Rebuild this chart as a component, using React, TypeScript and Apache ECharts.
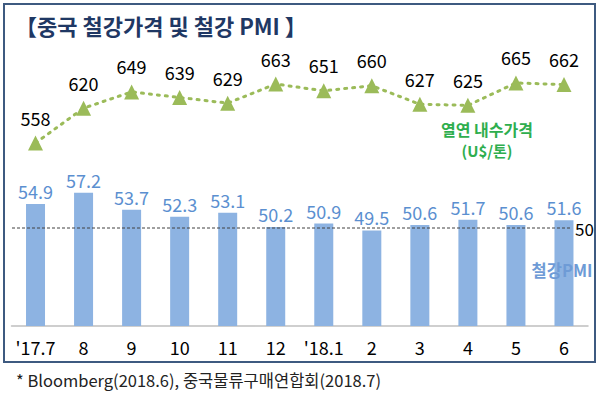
import React, { useEffect, useRef } from "react";
import * as echarts from "echarts";

const categories = ["'17.7", "8", "9", "10", "11", "12", "'18.1", "2", "3", "4", "5", "6"];
const pmiValues = [54.9, 57.2, 53.7, 52.3, 53.1, 50.2, 50.9, 49.5, 50.6, 51.7, 50.6, 51.6];
const priceValues = [558, 620, 649, 639, 629, 663, 651, 660, 627, 625, 665, 662];
const refLineValue = 50;

const FONT = "'Noto Sans CJK KR', 'Noto Sans', sans-serif";

export default function App() {
  const ref = useRef<HTMLDivElement>(null);
  useEffect(() => {
    if (!ref.current) return;
    const chart = echarts.init(ref.current, null, { renderer: "svg" });
    chart.setOption({
      animation: false,
      backgroundColor: "#ffffff",
      textStyle: { fontFamily: FONT },
      title: {
        text: "【중국 철강가격 및 철강 PMI 】",
        left: 10,
        top: 9,
        textStyle: { fontSize: 22, fontWeight: "bold", color: "#1F3864", fontFamily: FONT },
      },
      grid: [
        { left: 11.5, right: 12, top: 32, bottom: 68 },
        { left: 12, right: 28, top: 32, bottom: 68 },
      ],
      xAxis: [
        {
          type: "category",
          data: categories,
          gridIndex: 0,
          axisLine: { lineStyle: { color: "#BFBFBF", width: 1.5 } },
          axisTick: { show: false },
          axisLabel: { interval: 0, color: "#000", fontSize: 18, margin: 12, fontFamily: FONT },
        },
        { type: "value", gridIndex: 1, min: 0, max: 1, show: false },
      ],
      yAxis: [
        { type: "value", gridIndex: 0, min: 30, max: 90, show: false, splitLine: { show: false } },
        { type: "value", gridIndex: 0, min: 232, max: 755.7, show: false, splitLine: { show: false } },
        { type: "value", gridIndex: 1, min: 30, max: 90, show: false, splitLine: { show: false } },
      ],
      series: [
        {
          type: "bar",
          xAxisIndex: 0,
          yAxisIndex: 0,
          data: pmiValues,
          barWidth: 19,
          itemStyle: { color: "#8DB3E2" },
          label: {
            show: true,
            position: "top",
            distance: 4,
            color: "#5B8FD0",
            fontSize: 18,
            fontFamily: FONT,
            formatter: (p: any) => p.value.toFixed(1),
          },
        },
        {
          type: "line",
          xAxisIndex: 0,
          yAxisIndex: 1,
          data: priceValues,
          symbol: "triangle",
          symbolSize: 15,
          itemStyle: { color: "#9BBB59" },
          lineStyle: { color: "#9BBB59", width: 3, type: [2, 6], cap: "round" },
          label: {
            show: true,
            position: "top",
            distance: 9,
            color: "#000",
            fontSize: 18,
            fontFamily: FONT,
          },
        },
        {
          type: "line",
          xAxisIndex: 1,
          yAxisIndex: 2,
          data: [
            [0, refLineValue],
            [1, refLineValue],
          ],
          symbol: "none",
          silent: true,
          lineStyle: { color: "#404040", width: 1, type: [3, 2] },
          endLabel: {
            show: true,
            formatter: String(refLineValue),
            color: "#000",
            fontSize: 17,
            distance: 3,
            fontFamily: FONT,
          },
        },
      ],
      graphic: [
        {
          type: "rect",
          z: 100,
          shape: { x: 4, y: 4, width: 591, height: 358 },
          style: { fill: "none", stroke: "#3E5A80", lineWidth: 2 },
          silent: true,
        },
        {
          type: "text",
          z: 100,
          x: 487,
          y: 129,
          style: {
            text: "열연 내수가격",
            fill: "#2EAE4E",
            fontSize: 16,
            fontWeight: "bold",
            fontFamily: FONT,
            align: "center",
            verticalAlign: "middle",
          },
        },
        {
          type: "text",
          z: 100,
          x: 487,
          y: 150,
          style: {
            text: "(U$/톤)",
            fill: "#2EAE4E",
            fontSize: 15,
            fontWeight: "bold",
            fontFamily: FONT,
            align: "center",
            verticalAlign: "middle",
          },
        },
        {
          type: "text",
          z: 100,
          x: 562,
          y: 270,
          style: {
            text: "철강PMI",
            fill: "#6E9BD6",
            fontSize: 16.5,
            fontWeight: "bold",
            fontFamily: FONT,
            align: "center",
            verticalAlign: "middle",
          },
        },
        {
          type: "text",
          z: 100,
          x: 16,
          y: 380,
          style: {
            text: "* Bloomberg(2018.6), 중국물류구매연합회(2018.7)",
            fill: "#222",
            fontSize: 16.5,
            fontFamily: FONT,
            verticalAlign: "middle",
          },
        },
      ],
    });
    return () => chart.dispose();
  }, []);
  return (
    <div
      ref={ref}
      style={{ position: "absolute", left: 0, top: 0, width: 600, height: 394 }}
    />
  );
}
